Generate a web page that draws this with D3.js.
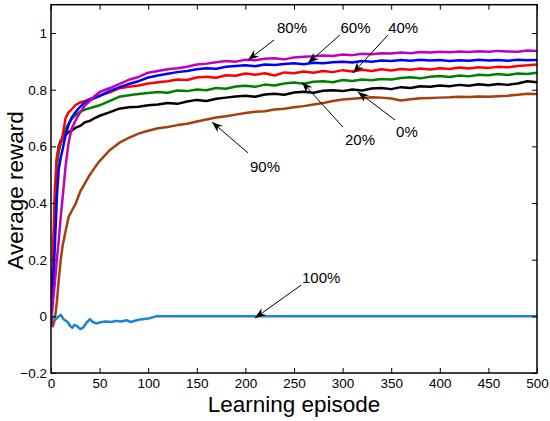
<!DOCTYPE html>
<html>
<head>
<meta charset="utf-8">
<script src="https://cdn.jsdelivr.net/npm/d3@7"></script>
<style>
body { margin:0; background:#fff; }
svg { display:block; font-family:"Liberation Sans", Arial, Helvetica, sans-serif; }
</style>
</head>
<body>
<svg></svg>
<script>

var episodes = [0,2,4,6,8,10,12,15,18,21,25,30,35,40,45,50,60,70,80,90,100,
  110,120,130,140,150,160,170,180,190,200,210,220,230,240,250,260,270,280,290,300,
  310,320,330,340,350,360,370,380,390,400,410,420,430,440,450,460,470,480,490,500]

var reward80 = [-0.03,0.05,0.12,0.2,0.27,0.35,0.42,0.53,0.61,0.66,0.69,0.72,0.745,0.76,0.778,0.792,0.805,0.82,0.835,0.845,0.86,
  0.866,0.872,0.876,0.881,0.889,0.892,0.897,0.901,0.899,0.906,0.904,0.909,0.911,0.907,0.914,0.916,0.918,0.921,0.919,0.924,
  0.922,0.927,0.925,0.929,0.928,0.931,0.929,0.933,0.931,0.934,0.932,0.935,0.933,0.936,0.934,0.937,0.935,0.934,0.938,0.937]

var reward60 = [-0.03,0.1,0.25,0.42,0.52,0.56,0.59,0.64,0.675,0.70,0.72,0.74,0.755,0.763,0.77,0.777,0.795,0.808,0.82,0.83,0.843,
  0.85,0.856,0.862,0.866,0.872,0.876,0.874,0.881,0.884,0.886,0.883,0.889,0.887,0.891,0.893,0.89,0.895,0.893,0.897,0.899,
  0.896,0.901,0.899,0.903,0.901,0.905,0.902,0.906,0.903,0.905,0.901,0.904,0.902,0.906,0.903,0.905,0.902,0.906,0.904,0.905]

var reward40 = [-0.03,0.2,0.45,0.56,0.6,0.61,0.64,0.7,0.72,0.73,0.745,0.755,0.76,0.768,0.772,0.78,0.79,0.805,0.81,0.815,0.822,
  0.826,0.83,0.836,0.834,0.843,0.846,0.842,0.851,0.849,0.857,0.853,0.858,0.85,0.861,0.858,0.864,0.86,0.866,0.862,0.869,
  0.864,0.87,0.866,0.872,0.868,0.873,0.87,0.875,0.871,0.876,0.873,0.878,0.875,0.879,0.877,0.881,0.879,0.884,0.886,0.889]

var reward20 = [-0.03,0.15,0.4,0.53,0.58,0.61,0.63,0.66,0.68,0.695,0.71,0.722,0.73,0.735,0.74,0.745,0.76,0.775,0.78,0.785,0.788,
  0.792,0.789,0.797,0.795,0.801,0.798,0.806,0.803,0.811,0.814,0.81,0.818,0.815,0.822,0.825,0.821,0.828,0.83,0.826,0.834,
  0.831,0.836,0.833,0.838,0.836,0.841,0.844,0.84,0.846,0.848,0.845,0.85,0.847,0.853,0.851,0.855,0.852,0.857,0.855,0.86]

var reward0 = [-0.02,0.15,0.4,0.55,0.6,0.62,0.63,0.64,0.65,0.655,0.665,0.672,0.685,0.69,0.7,0.708,0.72,0.733,0.738,0.74,0.745,
  0.748,0.753,0.75,0.758,0.764,0.76,0.768,0.772,0.776,0.779,0.775,0.783,0.786,0.782,0.79,0.793,0.789,0.796,0.798,0.795,
  0.801,0.797,0.804,0.806,0.802,0.809,0.806,0.812,0.81,0.815,0.812,0.817,0.814,0.819,0.816,0.82,0.817,0.822,0.83,0.826]

var reward90 = [-0.03,-0.035,-0.01,0.05,0.13,0.2,0.25,0.3,0.35,0.37,0.395,0.44,0.47,0.5,0.525,0.548,0.585,0.612,0.63,0.645,0.655,
  0.664,0.668,0.675,0.68,0.688,0.695,0.702,0.706,0.712,0.718,0.722,0.724,0.73,0.733,0.738,0.742,0.748,0.753,0.76,0.765,
  0.768,0.771,0.773,0.772,0.769,0.762,0.766,0.77,0.771,0.772,0.773,0.775,0.774,0.776,0.775,0.777,0.779,0.782,0.786,0.785]

// 100% curve has its own episodes
var episodes100 = [0,3,5,8,10,13,17,20,22,24,27,30,33,36,40,43,47,52,57,62,67,72,78,82,90,100,108,500]
var reward100 = [0.005,-0.005,-0.01,0,0.005,-0.01,-0.02,-0.035,-0.04,-0.03,-0.035,-0.045,-0.04,-0.025,-0.01,-0.02,-0.025,-0.02,-0.018,-0.02,-0.016,-0.018,-0.014,-0.02,-0.012,-0.008,0,0]

var xTicks = [0,50,100,150,200,250,300,350,400,450,500]
var yTicks = [-0.2,0,0.2,0.4,0.6,0.8,1]

var series = [
  {name:"90%", x:episodes, y:reward90, color:"#a3400c"},
  {name:"0%", x:episodes, y:reward0, color:"#000000"},
  {name:"20%", x:episodes, y:reward20, color:"#008000"},
  {name:"40%", x:episodes, y:reward40, color:"#ff0000"},
  {name:"60%", x:episodes, y:reward60, color:"#0000ff"},
  {name:"80%", x:episodes, y:reward80, color:"#bf00bf"},
  {name:"100%", x:episodes100, y:reward100, color:"#1a86d0"}
]

// label, arrow head, arrow tail, text anchor point (data units)
var labels = ["80%","60%","40%","20%","0%","90%","100%"]
var heads = [[202.7,0.905],[264.4,0.894],[310.7,0.859],[258.2,0.827],[315.8,0.792],[165.6,0.686],[209.9,-0.006]]
var tails = [[229.4,0.975],[297.3,0.993],[346.7,0.993],[300.4,0.668],[353.9,0.693],[202.7,0.577],[257.2,0.11]]
var textAt = [[232.5,1.0],[297.8,1.0],[346.9,1.0],[302.5,0.605],[355,0.633],[204.7,0.51],[258.2,0.118]]

var screen = {width:550, height:421}
var box = {left:51, right:537, top:4.7, bottom:373}

var svg = d3.select("svg")
  .attr("width", screen.width)
  .attr("height", screen.height)

svg.append("rect")
  .attr("width", screen.width)
  .attr("height", screen.height)
  .attr("fill", "#fff")

var xScale = d3.scaleLinear().domain([0,500]).range([box.left, box.right])
var yScale = d3.scaleLinear().domain([-0.2,1.1]).range([box.bottom, box.top])

svg.append("defs").append("clipPath").attr("id","clip")
  .append("rect")
  .attr("x", box.left).attr("y", box.top)
  .attr("width", box.right-box.left).attr("height", box.bottom-box.top)

var line = d3.line()
  .x(function(d){return xScale(d[0])})
  .y(function(d){return yScale(d[1])})

svg.append("g")
  .attr("clip-path","url(#clip)")
  .selectAll("path")
  .data(series)
  .enter()
  .append("path")
  .attr("d", function(s){ return line(s.x.map(function(e,i){return [e, s.y[i]]})) })
  .attr("fill","none")
  .attr("stroke", function(s){return s.color})
  .attr("stroke-width", 2.5)
  .attr("stroke-linejoin","round")

// axes, MATLAB style: ticks inside on all four sides
var fmt = function(d){ return d < 0 ? "\u2212" + Math.abs(d) : String(d) }

svg.append("g")
  .attr("transform","translate(0," + box.bottom + ")")
  .call(d3.axisBottom(xScale).tickValues(xTicks).tickSizeInner(-5).tickSizeOuter(0).tickPadding(5))
svg.append("g")
  .attr("transform","translate(0," + box.top + ")")
  .call(d3.axisTop(xScale).tickValues(xTicks).tickSizeInner(-5).tickSizeOuter(0).tickFormat(""))
svg.append("g")
  .attr("transform","translate(" + box.left + ",0)")
  .call(d3.axisLeft(yScale).tickValues(yTicks).tickSizeInner(-5).tickSizeOuter(0).tickPadding(4).tickFormat(fmt))
svg.append("g")
  .attr("transform","translate(" + box.right + ",0)")
  .call(d3.axisRight(yScale).tickValues(yTicks).tickSizeInner(-5).tickSizeOuter(0).tickFormat(""))

svg.selectAll(".domain").remove()
svg.selectAll(".tick line").attr("stroke","#000").attr("stroke-width",1)
svg.selectAll(".tick text")
  .attr("fill","#000")
  .style("font-size","13.5px")
  .style("font-family","'Liberation Sans', Arial, sans-serif")

svg.append("rect")
  .attr("x", box.left).attr("y", box.top)
  .attr("width", box.right-box.left).attr("height", box.bottom-box.top)
  .attr("fill","none")
  .attr("stroke","#000")
  .attr("stroke-width",1.5)

// axis titles
svg.append("text")
  .attr("x", (box.left+box.right)/2)
  .attr("y", 412)
  .attr("text-anchor","middle")
  .style("font-size","22.5px")
  .text("Learning episode")

svg.append("text")
  .attr("transform","translate(23," + 190.5 + ") rotate(-90)")
  .attr("text-anchor","middle")
  .style("font-size","22.5px")
  .text("Average reward")

// arrow annotations
var arrowHead = function(h, t)
{
  var hx = xScale(h[0]), hy = yScale(h[1])
  var tx = xScale(t[0]), ty = yScale(t[1])
  var a = Math.atan2(ty-hy, tx-hx)
  var len = 11, back = 7.5, w = 4.2
  var p = function(d, s){ return [hx + d*Math.cos(a) - s*Math.sin(a), hy + d*Math.sin(a) + s*Math.cos(a)] }
  return [p(0,0), p(len,w), p(back,0), p(len,-w)]
}

var notes = svg.append("g")
labels.forEach(function(lab, i)
{
  notes.append("line")
    .attr("x1", xScale(tails[i][0])).attr("y1", yScale(tails[i][1]))
    .attr("x2", xScale(heads[i][0])).attr("y2", yScale(heads[i][1]))
    .attr("stroke","#000").attr("stroke-width",1)
  notes.append("path")
    .attr("d", "M" + arrowHead(heads[i], tails[i]).join("L") + "Z")
    .attr("fill","#000")
  notes.append("text")
    .attr("x", xScale(textAt[i][0]))
    .attr("y", yScale(textAt[i][1]))
    .style("font-size","15px")
    .text(lab)
})

</script>
</body>
</html>
